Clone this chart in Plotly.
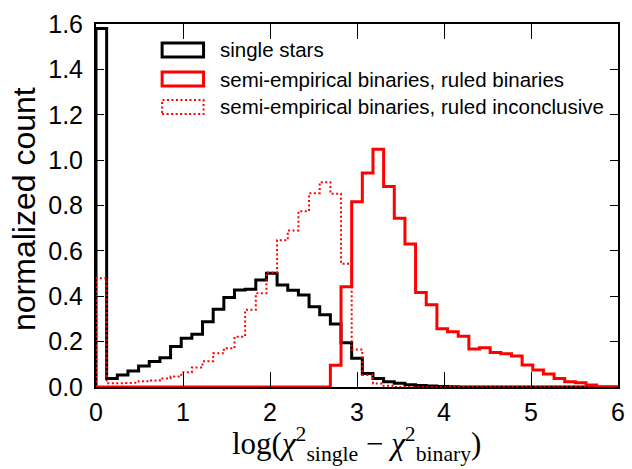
import plotly.graph_objects as go

# ---------------- data ----------------
bin_start = 0.0
bin_width = 6.0 / 49
n_bins = 49

single_stars = [1.58, 0.038, 0.053, 0.071, 0.093, 0.112, 0.129, 0.178, 0.215, 0.232,
                0.288, 0.343, 0.394, 0.428, 0.431, 0.472, 0.501, 0.450, 0.426, 0.405,
                0.354, 0.318, 0.278, 0.195, 0.127, 0.060, 0.038, 0.023, 0.016, 0.010,
                0.007, 0.004, 0.002, 0.001] + [0.0] * 15

ruled_binaries = [0.0] * 22 + [0.096, 0.442, 0.817, 0.943, 1.048, 0.884, 0.744, 0.630,
                               0.416, 0.362, 0.257, 0.243, 0.224, 0.168, 0.173, 0.152,
                               0.147, 0.137, 0.097, 0.075, 0.057, 0.038, 0.023, 0.019,
                               0.009, 0.0, 0.0]

ruled_inconclusive = [0.479, 0.016, 0.016, 0.019, 0.025, 0.029, 0.038, 0.046, 0.065, 0.086,
                      0.113, 0.149, 0.171, 0.222, 0.340, 0.413, 0.505, 0.647, 0.690, 0.775,
                      0.854, 0.903, 0.852, 0.543, 0.165, 0.053, 0.015, 0.005] + [0.0] * 21

series_names = ["single stars",
                "semi-empirical binaries, ruled binaries",
                "semi-empirical binaries, ruled inconclusive"]

x_ticks = [0, 1, 2, 3, 4, 5, 6]
y_ticks = [0.0, 0.2, 0.4, 0.6, 0.8, 1.0, 1.2, 1.4, 1.6]

# ---------------- helpers ----------------
edges = [bin_start + i * bin_width for i in range(n_bins + 1)]


def step_outline(counts):
    xs, ys = [edges[0]], [0.0]
    for i, c in enumerate(counts):
        xs += [edges[i], edges[i + 1]]
        ys += [c, c]
    xs.append(edges[len(counts)])
    ys.append(0.0)
    return xs, ys


W, H = 632, 469
ML, MR, MT, MB = 96, 7, 24, 82
PW, PH = W - ML - MR, H - MT - MB


def px(xp):
    return (xp - ML) / PW


def py(yp):
    return (H - MB - yp) / PH


styles = [dict(color="black", width=3),
          dict(color="red", width=3),
          dict(color="red", width=2, dash="2px,2.5px")]

fig = go.Figure()
for counts, name, st in zip([single_stars, ruled_binaries, ruled_inconclusive], series_names, styles):
    xs, ys = step_outline(counts)
    fig.add_trace(go.Scatter(x=xs, y=ys, mode="lines", name=name, line=st,
                             showlegend=False, hoverinfo="skip"))

# ---------------- manual legend (box handles) ----------------
shapes = []
annotations = []
row_centers = [50, 79, 107]
for yc, name, st in zip(row_centers, series_names, styles):
    shapes.append(dict(type="rect", xref="paper", yref="paper",
                       x0=px(163), x1=px(205), y0=py(yc + 7), y1=py(yc - 7),
                       line=st, fillcolor="rgba(0,0,0,0)"))
    annotations.append(dict(text=name, xref="paper", yref="paper", x=px(220), y=py(yc),
                            xanchor="left", yanchor="middle", showarrow=False,
                            font=dict(family="Liberation Sans, Arial", size=20.5, color="black")))

# axis titles
annotations.append(dict(text="normalized count", xref="paper", yref="paper", x=0, y=py(209),
                        xshift=-72, textangle=-90, xanchor="center", yanchor="middle",
                        showarrow=False,
                        font=dict(family="Liberation Sans, Arial", size=32, color="black")))
annotations.append(dict(text="log(<i>χ</i><sup>2</sup><sub>single</sub> − <i>χ</i><sup>2</sup><sub>binary</sub>)",
                        xref="paper", yref="paper", x=px(360), y=0, yshift=-57,
                        xanchor="center", yanchor="middle", showarrow=False,
                        font=dict(family="Liberation Serif, Times New Roman", size=31, color="black")))

axis_common = dict(showgrid=False, zeroline=False, showline=True, linecolor="black",
                   linewidth=2, mirror="ticks", ticks="inside", tickwidth=1,
                   tickcolor="black",
                   tickfont=dict(family="Liberation Sans, Arial", size=25, color="black"))

fig.update_layout(
    width=W, height=H,
    margin=dict(l=ML, r=MR, t=MT, b=MB, pad=0),
    paper_bgcolor="white", plot_bgcolor="white",
    xaxis=dict(range=[0, 6], tickvals=x_ticks, ticktext=[str(v) for v in x_ticks],
               ticklen=15, ticklabelstandoff=2, **axis_common),
    yaxis=dict(range=[0, 1.6], tickvals=y_ticks, ticktext=[f"{v:.1f}" for v in y_ticks],
               ticklen=8, ticklabelstandoff=6, **axis_common),
    shapes=shapes, annotations=annotations, showlegend=False,
)

fig.write_html("out.html")
